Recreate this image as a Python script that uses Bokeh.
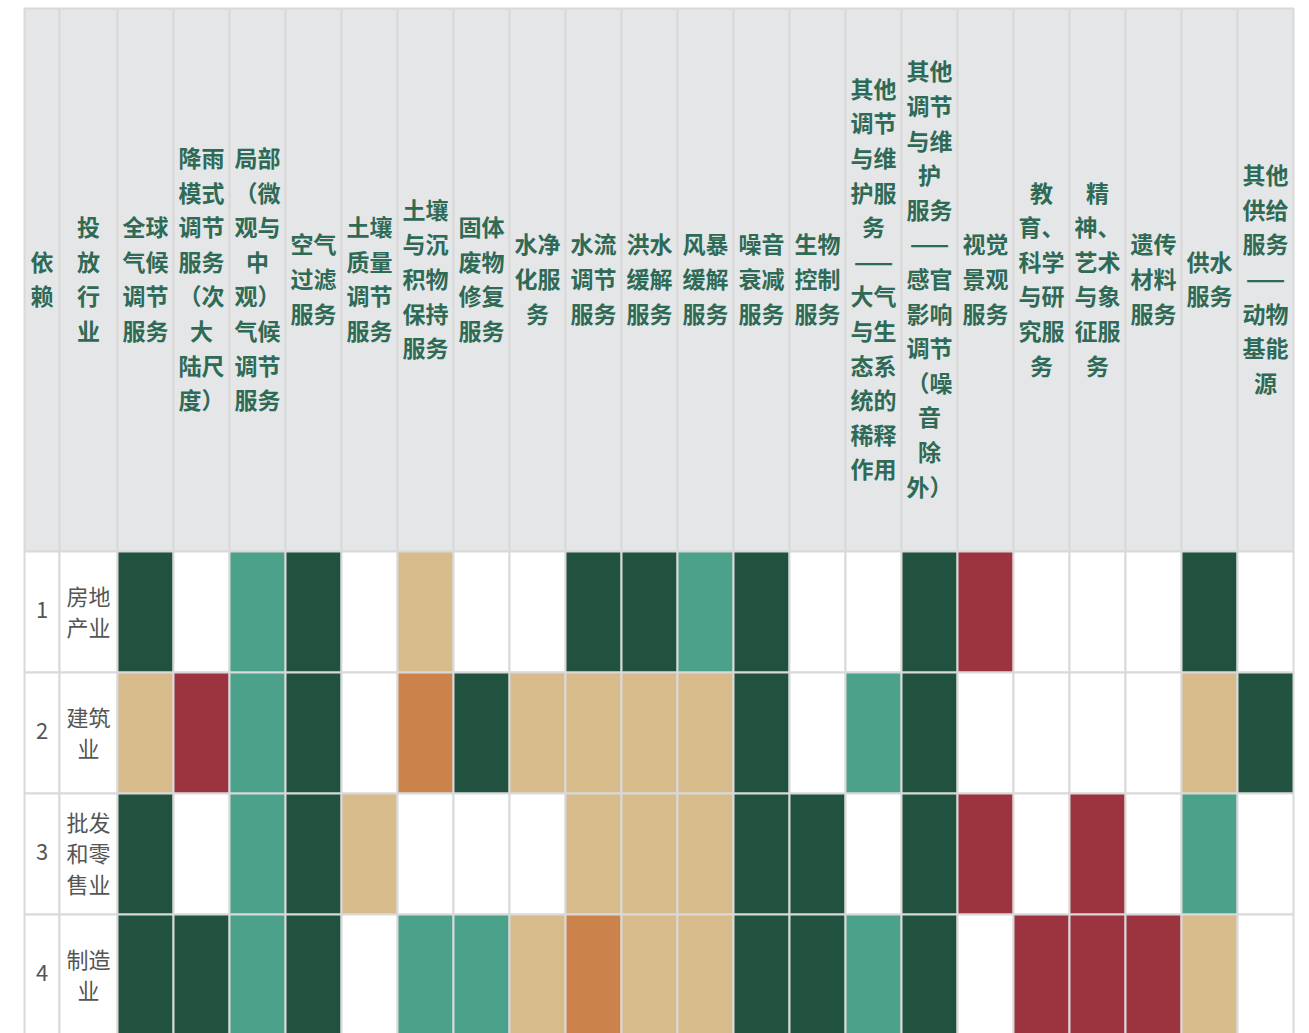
from bokeh.plotting import figure
from bokeh.models import ColumnDataSource, Range1d
from bokeh.core.properties import value
from bokeh.embed import file_html
from bokeh.resources import INLINE

# ---------------- data ----------------
header_dep = ["依", "赖"]
header_ind = ["投", "放", "行", "业"]
services = [
    ["全球", "气候", "调节", "服务"],
    ["降雨", "模式", "调节", "服务", "（次", "大", "陆尺", "度）"],
    ["局部", "（微", "观与", "中", "观）", "气候", "调节", "服务"],
    ["空气", "过滤", "服务"],
    ["土壤", "质量", "调节", "服务"],
    ["土壤", "与沉", "积物", "保持", "服务"],
    ["固体", "废物", "修复", "服务"],
    ["水净", "化服", "务"],
    ["水流", "调节", "服务"],
    ["洪水", "缓解", "服务"],
    ["风暴", "缓解", "服务"],
    ["噪音", "衰减", "服务"],
    ["生物", "控制", "服务"],
    ["其他", "调节", "与维", "护服", "务", "——", "大气", "与生", "态系", "统的", "稀释", "作用"],
    ["其他", "调节", "与维", "护", "服务", "——", "感官", "影响", "调节", "（噪", "音", "除", "外）"],
    ["视觉", "景观", "服务"],
    ["教", "育、", "科学", "与研", "究服", "务"],
    ["精", "神、", "艺术", "与象", "征服", "务"],
    ["遗传", "材料", "服务"],
    ["供水", "服务"],
    ["其他", "供给", "服务", "——", "动物", "基能", "源"],
]
row_numbers = ["1", "2", "3", "4"]
industries = [["房地", "产业"], ["建筑", "业"], ["批发", "和零", "售业"], ["制造", "业"]]
# 5 = very high, 4 = high, 3 = medium, 2 = low, 1 = very low, 0 = none
ratings = [
    [5, 0, 4, 5, 0, 3, 0, 0, 5, 5, 4, 5, 0, 0, 5, 1, 0, 0, 0, 5, 0],
    [3, 1, 4, 5, 0, 2, 5, 3, 3, 3, 3, 5, 0, 4, 5, 0, 0, 0, 0, 3, 5],
    [5, 0, 4, 5, 3, 0, 0, 0, 3, 3, 3, 5, 5, 0, 5, 1, 0, 1, 0, 4, 0],
    [5, 5, 4, 5, 0, 4, 4, 3, 2, 3, 3, 5, 5, 4, 5, 0, 1, 1, 1, 3, 0],
]
level_colors = {5: "#20523f", 4: "#4ba189", 3: "#d7bb8a", 2: "#cc834b", 1: "#9c3440", 0: "#ffffff"}

# ---------------- layout ----------------
W, H = 1301, 1033
X0 = 24
col_w = [35, 58] + [56] * len(services)
col_left = [X0]
for w in col_w:
    col_left.append(col_left[-1] + w)
HEAD_TOP, HEAD_H, ROW_H = 8, 543, 121
HEAD_LH = 34.6
BODY_LH = 31
TXT_SHIFT = -2
GRID = "#d9d9d9"
HEAD_BG = "#e5e6e8"
HEAD_TXT = "#2e6a55"
BODY_TXT = "#555555"
FONT = "Noto Sans CJK SC"

p = figure(width=W, height=H, x_range=Range1d(0, W), y_range=Range1d(H, 0),
           output_backend="svg", toolbar_location=None, min_border=0)
p.axis.visible = False
p.grid.visible = False
p.outline_line_color = None
p.background_fill_color = "white"
p.border_fill_color = "white"

# header cells
hl, hr, ht, hb = [], [], [], []
for c in range(len(col_w)):
    hl.append(col_left[c]); hr.append(col_left[c + 1]); ht.append(HEAD_TOP); hb.append(HEAD_TOP + HEAD_H)
p.quad(left=hl, right=hr, top=ht, bottom=hb, fill_color=HEAD_BG, line_color=GRID, line_width=2)

# body cells
bl, br, bt, bb, bc = [], [], [], [], []
for r in range(len(ratings)):
    top = HEAD_TOP + HEAD_H + r * ROW_H
    for c in range(len(col_w)):
        bl.append(col_left[c]); br.append(col_left[c + 1])
        bt.append(top); bb.append(top + ROW_H)
        if c < 2:
            bc.append("#ffffff")
        else:
            bc.append(level_colors[ratings[r][c - 2]])
p.quad(left=bl, right=br, top=bt, bottom=bb, fill_color=bc, line_color=GRID, line_width=2)

# header texts
all_headers = [header_dep, header_ind] + services
tx, ty, tt = [], [], []
cy = HEAD_TOP + HEAD_H / 2 + TXT_SHIFT
for c, lines in enumerate(all_headers):
    xc = (col_left[c] + col_left[c + 1]) / 2
    n = len(lines)
    for i, s in enumerate(lines):
        tx.append(xc); ty.append(cy + (i - (n - 1) / 2) * HEAD_LH); tt.append(s)
p.text(x="x", y="y", text="t", source=ColumnDataSource(dict(x=tx, y=ty, t=tt)),
       text_font=value(FONT), text_font_style="bold", text_font_size="23px",
       text_color=HEAD_TXT, text_align="center", text_baseline="middle")

# body texts
bx, by, bt2 = [], [], []
for r in range(len(ratings)):
    rc = HEAD_TOP + HEAD_H + r * ROW_H + ROW_H / 2 + TXT_SHIFT
    bx.append((col_left[0] + col_left[1]) / 2); by.append(rc); bt2.append(row_numbers[r])
    lines = industries[r]
    n = len(lines)
    for i, s in enumerate(lines):
        bx.append((col_left[1] + col_left[2]) / 2); by.append(rc + (i - (n - 1) / 2) * BODY_LH); bt2.append(s)
p.text(x="x", y="y", text="t", source=ColumnDataSource(dict(x=bx, y=by, t=bt2)),
       text_font=value(FONT), text_font_size="22px",
       text_color=BODY_TXT, text_align="center", text_baseline="middle")

open("out.html", "w").write(file_html(p, INLINE))
